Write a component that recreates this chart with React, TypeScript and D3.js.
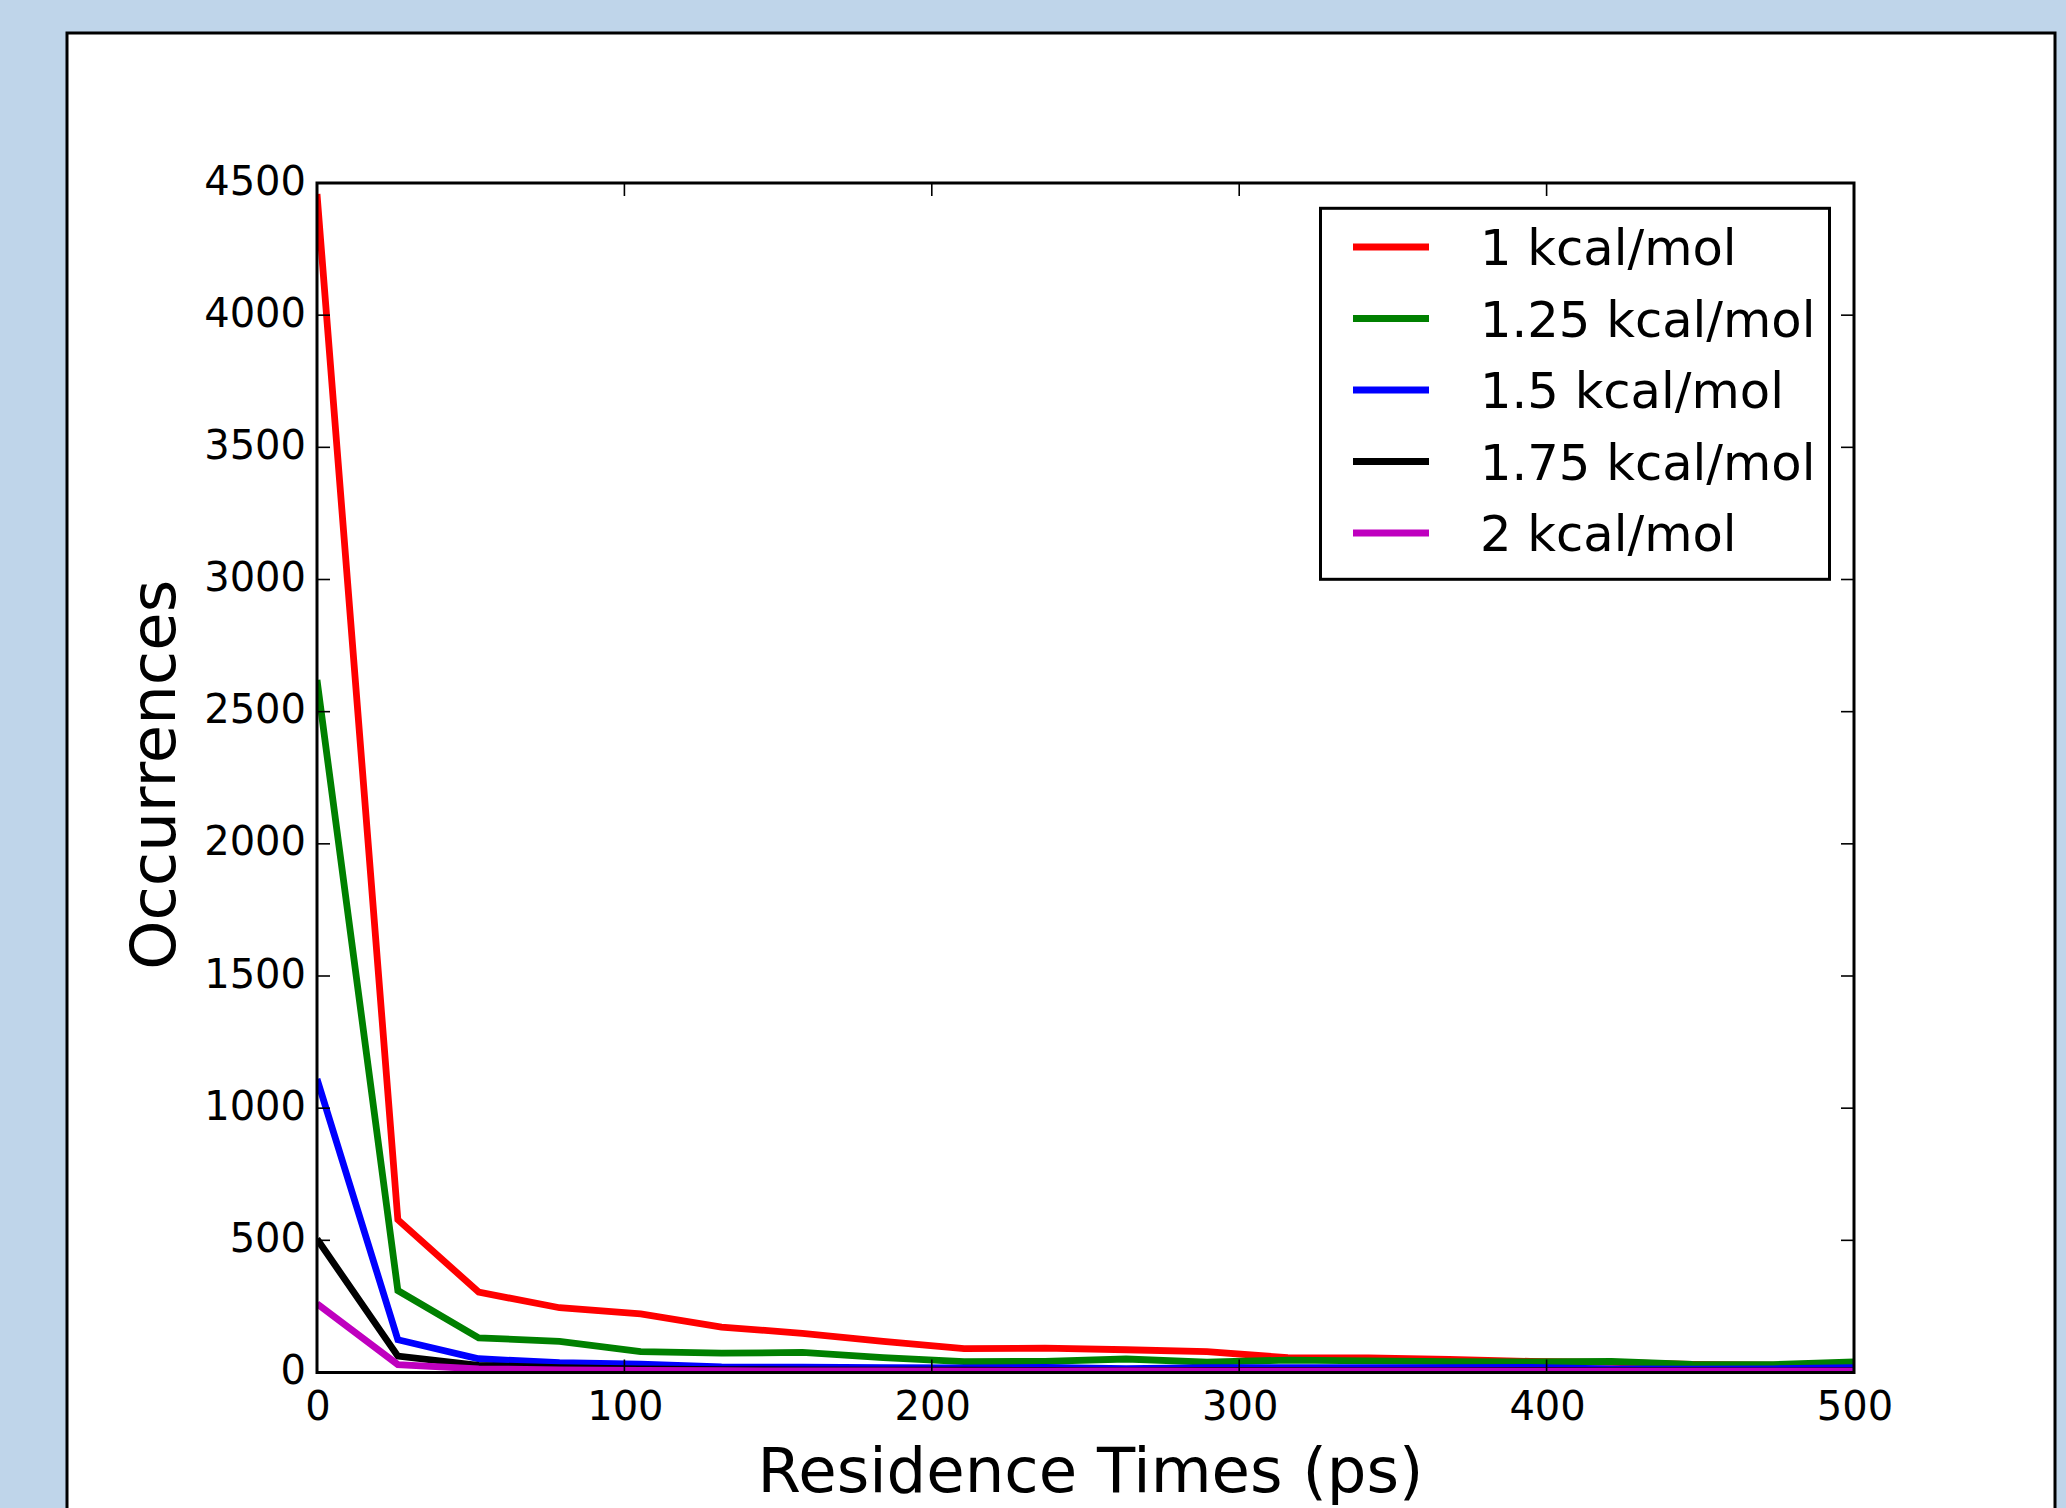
import React from "react";
import * as d3 from "d3";

const residenceTimes = [0, 26.3, 52.6, 78.9, 105.3, 131.6, 157.9, 184.2, 210.5, 236.8, 263.2, 289.5, 315.8, 342.1, 368.4, 394.7, 421.1, 447.4, 473.7, 500];

const kcal1 = [4458, 578, 304, 245, 222, 172, 148, 118, 90, 92, 86, 79, 56, 55, 50, 42, 38, 31, 28, 22];
const kcal125 = [2620, 310, 131, 118, 79, 73, 76, 56, 41, 42, 51, 39, 47, 44, 41, 40, 42, 31, 30, 40];
const kcal15 = [1110, 124, 52, 37, 32, 21, 20, 18, 17, 19, 15, 18, 18, 18, 18, 19, 14, 13, 14, 18];
const kcal175 = [505, 62, 27, 18, 14, 11, 10, 9, 9, 8, 7, 8, 8, 7, 7, 8, 7, 7, 6, 7];
const kcal2 = [260, 30, 14, 10, 8, 7, 6, 6, 5, 5, 6, 5, 5, 5, 5, 5, 5, 5, 5, 5];

const seriesNames = ["1 kcal/mol", "1.25 kcal/mol", "1.5 kcal/mol", "1.75 kcal/mol", "2 kcal/mol"];
const seriesValues = [kcal1, kcal125, kcal15, kcal175, kcal2];
const seriesColors = ["#ff0000", "#008000", "#0000ff", "#000000", "#bf00bf"];

const xTicks = [0, 100, 200, 300, 400, 500];
const yTicks = [0, 500, 1000, 1500, 2000, 2500, 3000, 3500, 4000, 4500];

const xLabel = "Residence Times (ps)";
const yLabel = "Occurrences";

export default function App() {
  const W = 2066;
  const H = 1508;
  const left = 317;
  const right = 1854;
  const top = 183;
  const bottom = 1372.5;
  const font = "DejaVu Sans, Verdana, sans-serif";

  const x = d3.scaleLinear().domain([0, 500]).range([left, right]);
  const y = d3.scaleLinear().domain([0, 4500]).range([bottom, top]);

  const line = d3
    .line<number>()
    .x((_, i) => x(residenceTimes[i]))
    .y((d) => y(d));

  const tickLen = 13;
  const tickW = 1.6;

  const legX = 1320.5;
  const legY = 208.3;
  const legW = 509;
  const legH = 371;
  const rowY0 = 247;
  const rowStep = 71.5;

  return (
    <svg
      width={W}
      height={H}
      viewBox={`0 0 ${W} ${H}`}
      style={{ position: "absolute", left: 0, top: 0 }}
    >
      <rect x={0} y={0} width={W} height={H} fill="#bfd5ea" />
      <rect x={67} y={33} width={1988} height={1510} fill="#ffffff" stroke="#000" strokeWidth={3} />

      <defs>
        <clipPath id="plotclip">
          <rect x={left} y={top} width={right - left} height={bottom - top} />
        </clipPath>
      </defs>

      <g clipPath="url(#plotclip)">
        {seriesValues.map((vals, k) => (
          <path
            key={k}
            d={line(vals) || ""}
            fill="none"
            stroke={seriesColors[k]}
            strokeWidth={6.8}
            strokeLinejoin="miter"
            strokeLinecap="butt"
          />
        ))}
      </g>

      {xTicks.map((t) => (
        <g key={"xt" + t}>
          <line x1={x(t)} x2={x(t)} y1={bottom} y2={bottom - tickLen} stroke="#000" strokeWidth={tickW} />
          <line x1={x(t)} x2={x(t)} y1={top} y2={top + tickLen} stroke="#000" strokeWidth={tickW} />
          <text
            x={x(t) + 1}
            y={1420}
            textAnchor="middle"
            fontFamily={font}
            fontSize={40}
            fill="#000"
          >
            {t}
          </text>
        </g>
      ))}
      {yTicks.map((t) => (
        <g key={"yt" + t}>
          <line x1={left} x2={left + tickLen} y1={y(t)} y2={y(t)} stroke="#000" strokeWidth={tickW} />
          <line x1={right} x2={right - tickLen} y1={y(t)} y2={y(t)} stroke="#000" strokeWidth={tickW} />
          <text
            x={306}
            y={y(t) + 11.5}
            textAnchor="end"
            fontFamily={font}
            fontSize={40}
            fill="#000"
          >
            {t}
          </text>
        </g>
      ))}

      <rect x={left} y={top} width={right - left} height={bottom - top} fill="none" stroke="#000" strokeWidth={3} />

      <text
        x={(left + right) / 2 + 5}
        y={1492}
        textAnchor="middle"
        fontFamily={font}
        fontSize={62.5}
        fill="#000"
      >
        {xLabel}
      </text>
      <text
        transform={`translate(175, ${(top + bottom) / 2 - 3}) rotate(-90)`}
        textAnchor="middle"
        fontFamily={font}
        fontSize={62.5}
        fill="#000"
      >
        {yLabel}
      </text>

      <rect x={legX} y={legY} width={legW} height={legH} fill="#ffffff" stroke="#000" strokeWidth={3} />
      {seriesNames.map((name, k) => (
        <g key={"lg" + k}>
          <line
            x1={1353}
            x2={1429}
            y1={rowY0 + k * rowStep}
            y2={rowY0 + k * rowStep}
            stroke={seriesColors[k]}
            strokeWidth={6.8}
          />
          <text
            x={1480}
            y={rowY0 + k * rowStep + 18}
            fontFamily={font}
            fontSize={49.6}
            fill="#000"
          >
            {name}
          </text>
        </g>
      ))}
    </svg>
  );
}
